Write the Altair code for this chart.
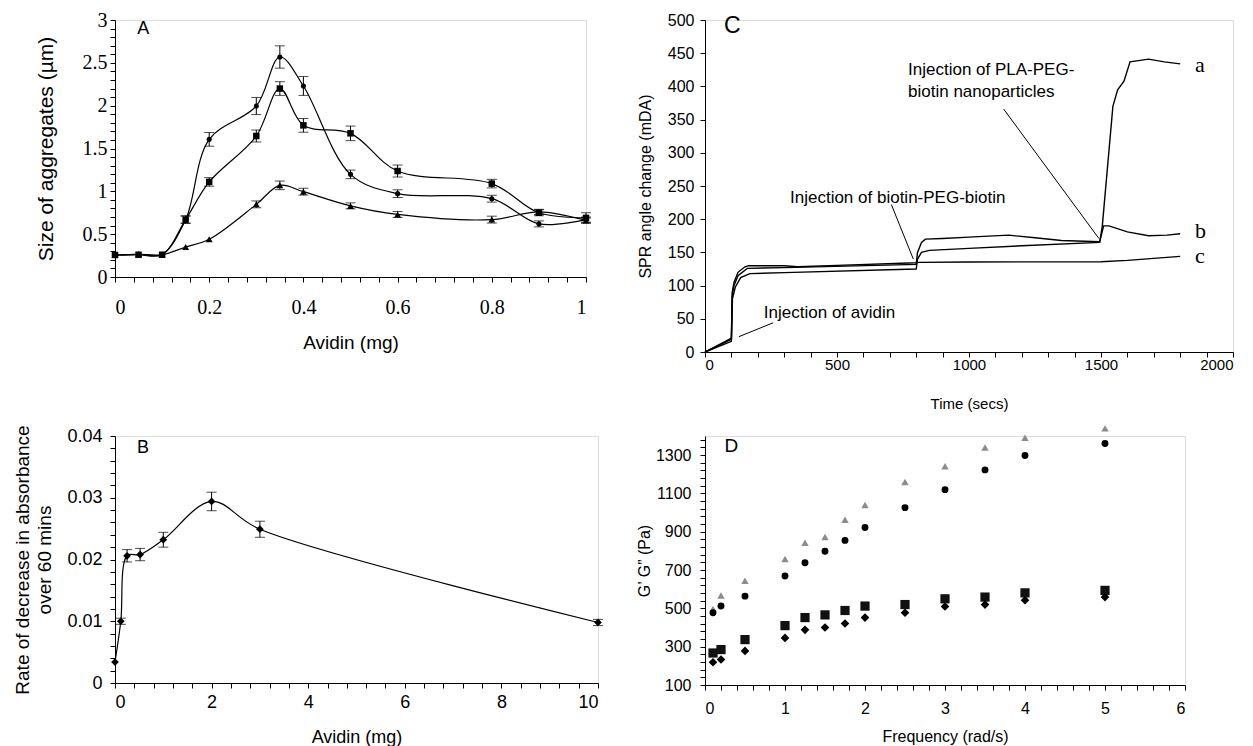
import altair as alt
import pandas as pd

# ---------------- Panel A data ----------------
a_x = [0, 0.05, 0.1, 0.15, 0.2, 0.3, 0.35, 0.4, 0.5, 0.6, 0.8, 0.9, 1.0]
a_circle = [0.257, 0.265, 0.265, 0.67, 1.607, 1.996, 2.568, 2.23, 1.198, 0.973, 0.914, 0.62, 0.67]
a_circle_err = [0.02, 0.02, 0.02, 0.04, 0.08, 0.10, 0.13, 0.11, 0.05, 0.045, 0.04, 0.035, 0.03]
a_square = [0.257, 0.26, 0.26, 0.67, 1.11, 1.646, 2.2, 1.77, 1.677, 1.237, 1.09, 0.75, 0.69]
a_square_err = [0.02, 0.02, 0.02, 0.045, 0.05, 0.07, 0.08, 0.08, 0.085, 0.07, 0.05, 0.035, 0.06]
a_tri = [0.257, 0.265, 0.26, 0.35, 0.44, 0.848, 1.07, 0.996, 0.83, 0.73, 0.67, 0.76, 0.66]
a_tri_err = [0.02, 0.02, 0.02, 0.02, 0.02, 0.04, 0.05, 0.04, 0.035, 0.035, 0.04, 0.03, 0.03]

# ---------------- Panel B data ----------------
b_x = [0, 0.12, 0.25, 0.52, 1.0, 2.0, 3.0, 10.0]
b_y = [0.0034, 0.0100, 0.0206, 0.0208, 0.0232, 0.0294, 0.0249, 0.0098]
b_err = [0, 0.0005, 0.001, 0.001, 0.0012, 0.0015, 0.0013, 0.0005]

# ---------------- Panel C data ----------------
c_a_t = [0, 100, 104, 115, 135, 170, 300, 800, 805, 820, 850, 1000, 1200, 1495, 1505, 1545, 1563, 1587, 1610, 1680, 1740, 1800]
c_a_v = [0, 16, 80, 98, 112, 118, 119.5, 125, 140, 150, 153, 156, 160, 165, 190, 370, 395, 408, 437, 441, 437, 434]
c_b_t = [0, 100, 103, 110, 125, 160, 300, 800, 805, 820, 835, 900, 1000, 1150, 1250, 1350, 1495, 1510, 1530, 1600, 1680, 1750, 1800]
c_b_v = [0, 19, 85, 100, 115, 126, 127, 132, 150, 165, 170, 171, 173, 176, 172, 168, 166, 190, 190, 181, 175, 176, 178]
c_c_t = [0, 100, 103, 110, 125, 150, 165, 300, 350, 500, 800, 810, 1000, 1500, 1600, 1700, 1800]
c_c_v = [0, 21, 90, 105, 120, 128, 130, 130, 128.5, 130.5, 134.5, 135, 135.5, 136, 138, 141, 144]

c_notes = ["Injection of PLA-PEG-", "biotin nanoparticles", "Injection of biotin-PEG-biotin", "Injection of avidin"]
c_notes_x = [769, 769, 322, 223]
c_notes_y = [425, 392, 232, 59]
c_lead_x1 = [1131, 706, 128]
c_lead_y1 = [366, 222, 23]
c_lead_x2 = [1492, 789, 258]
c_lead_y2 = [171, 140, 44]
c_curve_labels = ["a", "b", "c"]
c_curve_lab_x = [1856, 1856, 1856]
c_curve_lab_y = [421, 172, 134]

# ---------------- Panel D data ----------------
d_x = [0.1, 0.2, 0.5, 1, 1.25, 1.5, 1.75, 2, 2.5, 3, 3.5, 4, 5]
d_tri = [497, 567, 644, 758, 843, 873, 963, 1040, 1160, 1242, 1340, 1391, 1440]
d_circle = [477, 512, 564, 669, 738, 798, 855, 922, 1026, 1120, 1223, 1298, 1361]
d_square = [267, 285, 337, 410, 452, 466, 489, 512, 520, 550, 559, 581, 594]
d_diamond = [219, 233, 278, 346, 388, 400, 421, 452, 477, 510, 520, 543, 559]

SANS = "Liberation Sans"
SERIF = "Liberation Serif"


def ticks(start, stop, step):
    n = int(round((stop - start) / step))
    return [round(start + i * step, 6) for i in range(n + 1)]


def axis(values, every, base, font, size, title, tfont_size, lab_pad, title_pad, **kw):
    expr = (f"abs((datum.value - {base}) / {every} - round((datum.value - {base}) / {every})) < 0.001"
            f" ? format(datum.value, '~g') : ''")
    return alt.Axis(values=values, labelExpr=expr, labelOverlap=False, grid=False,
                    labelFont=font, labelFontSize=size, labelPadding=lab_pad,
                    title=title, titleFont=SANS, titleFontSize=tfont_size,
                    titleFontWeight="normal", titlePadding=title_pad,
                    tickSize=5, tickColor="black", domainColor="black",
                    labelColor="black", titleColor="black", **kw)


# ================= Panel A =================
rowsA = []
for s, ys, es in [("circle", a_circle, a_circle_err), ("square", a_square, a_square_err), ("tri", a_tri, a_tri_err)]:
    for xi, yi, ei in zip(a_x, ys, es):
        rowsA.append(dict(x=xi, y=yi, lo=yi - ei, hi=yi + ei, s=s, e=ei))
dfA = pd.DataFrame(rowsA)

axAx = axis(ticks(0, 1, 0.04), 0.2, 0, SERIF, 20, "Avidin  (mg)", 19, 15, 16)
axAy = axis(ticks(0, 3, 0.1), 0.5, 0, SERIF, 20, "Size of aggregates (µm)", 21, 3, 26)
scAx = alt.Scale(domain=[0, 1], nice=False, zero=False)
scAy = alt.Scale(domain=[0, 3], nice=False, zero=False)


def xA(f="x"):
    return alt.X(f"{f}:Q", scale=scAx, axis=axAx)


def yA(f="y"):
    return alt.Y(f"{f}:Q", scale=scAy, axis=axAy)


lineA = alt.Chart(dfA).mark_line(interpolate="catmull-rom", color="black", strokeWidth=1.2).encode(
    x=xA(), y=yA(), detail="s:N")
errA = alt.Chart(dfA).transform_filter("datum.e > 0.025").mark_rule(color="black", strokeWidth=1).encode(
    x=xA(), y=yA("lo"), y2="hi:Q")
capLoA = alt.Chart(dfA).transform_filter("datum.e > 0.025").mark_tick(
    orient="horizontal", size=10, thickness=1, color="black").encode(x=xA(), y=yA("lo"))
capHiA = alt.Chart(dfA).transform_filter("datum.e > 0.025").mark_tick(
    orient="horizontal", size=10, thickness=1, color="black").encode(x=xA(), y=yA("hi"))
ptsA = [
    alt.Chart(dfA).transform_filter(f"datum.s == '{s}'").mark_point(
        filled=True, color="black", opacity=1, shape=shp, size=sz).encode(x=xA(), y=yA())
    for s, shp, sz in [("circle", "circle", 26), ("square", "square", 42), ("tri", "triangle-up", 48)]
]
txtA = alt.Chart(pd.DataFrame({"x": [0.047], "y": [2.837], "t": ["A"]})).mark_text(
    align="left", baseline="alphabetic", font=SANS, fontSize=18, color="black").encode(
    x=xA(), y=yA(), text="t:N")
panelA = alt.layer(lineA, errA, capLoA, capHiA, *ptsA, txtA).properties(width=471, height=257)

# ================= Panel B =================
dfB = pd.DataFrame({"x": b_x, "y": b_y, "e": b_err})
dfB["lo"] = dfB["y"] - dfB["e"]
dfB["hi"] = dfB["y"] + dfB["e"]
axBx = axis(ticks(0, 10, 0.4), 2, 0, SANS, 18, "Avidin  (mg)", 18, 5, 17)
axBy = axis(ticks(0, 0.04, 0.002), 0.01, 0, SANS, 18, ["Rate of decrease in absorbance", "over 60 mins"], 19, 8, 12,
            titleLineHeight=22)
scBx = alt.Scale(domain=[0, 10], nice=False, zero=False)
scBy = alt.Scale(domain=[0, 0.04], nice=False, zero=False)


def xB(f="x"):
    return alt.X(f"{f}:Q", scale=scBx, axis=axBx)


def yB(f="y"):
    return alt.Y(f"{f}:Q", scale=scBy, axis=axBy)


lineB = alt.Chart(dfB).mark_line(interpolate="catmull-rom", color="black", strokeWidth=1.2).encode(x=xB(), y=yB())
errB = alt.Chart(dfB).transform_filter("datum.e > 0").mark_rule(color="black", strokeWidth=1).encode(
    x=xB(), y=yB("lo"), y2="hi:Q")
capLoB = alt.Chart(dfB).transform_filter("datum.e > 0").mark_tick(
    orient="horizontal", size=10, thickness=1, color="black").encode(x=xB(), y=yB("lo"))
capHiB = alt.Chart(dfB).transform_filter("datum.e > 0").mark_tick(
    orient="horizontal", size=10, thickness=1, color="black").encode(x=xB(), y=yB("hi"))
ptsB = alt.Chart(dfB).mark_point(filled=True, color="black", opacity=1, shape="diamond", size=60).encode(
    x=xB(), y=yB())
txtB = alt.Chart(pd.DataFrame({"x": [0.455], "y": [0.0373], "t": ["B"]})).mark_text(
    align="left", baseline="alphabetic", font=SANS, fontSize=18, color="black").encode(
    x=xB(), y=yB(), text="t:N")
panelB = alt.layer(lineB, errB, capLoB, capHiB, ptsB, txtB).properties(width=483, height=247)

# ================= Panel C =================
rowsC = []
for s, ts, vs in [("a", c_a_t, c_a_v), ("b", c_b_t, c_b_v), ("c", c_c_t, c_c_v)]:
    for i, (t, v) in enumerate(zip(ts, vs)):
        rowsC.append(dict(x=t, y=v, s=s, o=i))
dfC = pd.DataFrame(rowsC)
axCx = axis(ticks(0, 2000, 100), 500, 0, SANS, 15, "Time (secs)", 15, 0, 24)
axCy = axis(ticks(0, 500, 50), 50, 0, SANS, 16, "SPR angle change (mDA)", 16, 6, 14)
scCx = alt.Scale(domain=[0, 2000], nice=False, zero=False)
scCy = alt.Scale(domain=[0, 500], nice=False, zero=False)


def xC(f="x"):
    return alt.X(f"{f}:Q", scale=scCx, axis=axCx)


def yC(f="y"):
    return alt.Y(f"{f}:Q", scale=scCy, axis=axCy)


lineC = alt.Chart(dfC).mark_line(color="black", strokeWidth=1.4).encode(
    x=xC(), y=yC(), detail="s:N", order="o:Q")
dfLead = pd.DataFrame({"x": c_lead_x1, "y": c_lead_y1, "x2": c_lead_x2, "y2": c_lead_y2})
leadC = alt.Chart(dfLead).mark_rule(color="black", strokeWidth=1).encode(
    x=xC(), y=yC(), x2="x2:Q", y2="y2:Q")
dfNotes = pd.DataFrame({"x": c_notes_x, "y": c_notes_y, "t": c_notes})
notesC = alt.Chart(dfNotes).mark_text(align="left", baseline="middle", font=SANS, fontSize=17,
                                      color="black").encode(x=xC(), y=yC(), text="t:N")
dfLab = pd.DataFrame({"x": c_curve_lab_x, "y": c_curve_lab_y, "t": c_curve_labels})
labC = alt.Chart(dfLab).mark_text(align="left", baseline="alphabetic", font=SERIF, fontSize=22,
                                  color="black").encode(x=xC(), y=yC(), text="t:N")
txtC = alt.Chart(pd.DataFrame({"x": [72], "y": [480], "t": ["C"]})).mark_text(
    align="left", baseline="alphabetic", font=SANS, fontSize=23, color="black").encode(
    x=xC(), y=yC(), text="t:N")
panelC = alt.layer(lineC, leadC, notesC, labC, txtC).properties(width=528, height=332)

# ================= Panel D =================
rowsD = []
for s, ys in [("tri", d_tri), ("circle", d_circle), ("square", d_square), ("diamond", d_diamond)]:
    for xi, yi in zip(d_x, ys):
        rowsD.append(dict(x=xi, y=yi, s=s))
dfD = pd.DataFrame(rowsD)
axDx = axis(ticks(0, 6, 0.2), 1, 0, SANS, 16, "Frequency (rad/s)", 16, 10, 12)
axDy = axis(ticks(100, 1380, 40), 200, 100, SANS, 16, "G\u2019 G\u201d (Pa)", 16, 9, 3)
scDx = alt.Scale(domain=[0, 6], nice=False, zero=False)
scDy = alt.Scale(domain=[100, 1400], nice=False, zero=False)


def xD():
    return alt.X("x:Q", scale=scDx, axis=axDx)


def yD():
    return alt.Y("y:Q", scale=scDy, axis=axDy)


ptsD = [
    alt.Chart(dfD).transform_filter(f"datum.s == '{s}'").mark_point(
        filled=True, opacity=1, color=col, shape=shp, size=sz).encode(x=xD(), y=yD())
    for s, shp, col, sz in [("tri", "triangle-up", "#8c8c8c", 55),
                            ("circle", "circle", "black", 48),
                            ("square", "square", "#111111", 85),
                            ("diamond", "diamond", "black", 75)]
]
txtD = alt.Chart(pd.DataFrame({"x": [0.243], "y": [1318], "t": ["D"]})).mark_text(
    align="left", baseline="alphabetic", font=SANS, fontSize=19, color="black").encode(
    x=xD(), y=yD(), text="t:N")
panelD = alt.layer(*ptsD, txtD).properties(width=480, height=249)

chart = alt.concat(
    panelA, panelC, panelB, panelD, columns=2,
    spacing={"row": 84, "column": 107},
).properties(
    bounds="flush", align="each",
    padding={"left": 5, "top": 1, "right": 0, "bottom": 0},
).configure_view(stroke=None).configure(background="white")

chart.save("out.html", embed_options={"renderer": "svg", "actions": False})
